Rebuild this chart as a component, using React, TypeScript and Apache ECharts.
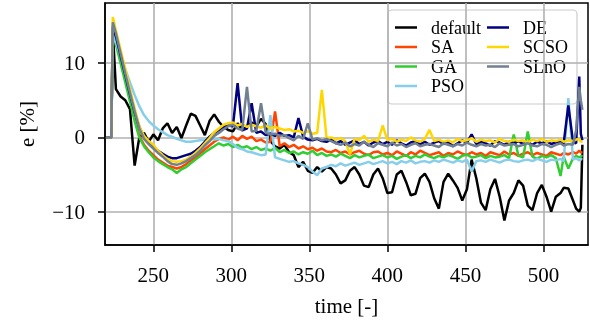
import { useEffect, useRef } from "react";
import * as echarts from "echarts";

const times = [
  220, 223, 224, 226, 229, 232, 235, 238, 241, 244,
  247, 250, 253, 256, 259, 262, 265, 268, 271, 274,
  277, 280, 283, 286, 289, 292, 295, 298, 301, 304,
  307, 310, 313, 316, 319, 322, 325, 328, 331, 334,
  337, 340, 343, 346, 349, 352, 355, 358, 361, 364,
  367, 370, 373, 376, 379, 382, 385, 388, 391, 394,
  397, 400, 403, 406, 409, 412, 415, 418, 421, 424,
  427, 430, 433, 436, 439, 442, 445, 448, 451, 454,
  457, 460, 463, 466, 469, 472, 475, 478, 481, 484,
  487, 490, 493, 496, 499, 502, 505, 508, 511, 513,
  516, 519, 521, 523, 524, 525,
];

const defaultValues = [
  0, 0, 14.5, 6.5, 5.5, 5.0, 3.8, -3.8, 0.0, 0.6,
  -0.6, 0.4, -0.4, 1.2, 1.9, 0.6, 1.4, -0.1, 1.6, 3.2,
  2.9, 1.6, 0.3, 2.2, 3.1, 2.1, 1.4, 1.0, 0.8, 1.9,
  0.9, 1.5, 2.0, 1.5, 2.5, 1.8, -0.5, -1.2, -1.5, -1.0,
  -2.0, -2.4, -4.0, -3.3, -4.5, -4.8, -4.0, -4.6, -4.0, -4.2,
  -5.0, -6.2, -5.8, -4.5, -4.0, -5.0, -6.5, -6.7, -5.0, -4.2,
  -5.5, -7.5, -7.4, -5.0, -4.5, -6.0, -7.8, -7.6, -5.5, -4.9,
  -6.0, -8.2, -9.6, -6.0, -4.9, -5.8, -6.8, -8.5, -7.0, -3.0,
  -5.5, -8.8, -9.8, -7.0, -5.6, -8.0, -11.2, -8.5, -7.5, -5.8,
  -6.5, -9.2, -9.8, -7.5, -6.4, -8.0, -10.0, -8.0, -7.5, -6.8,
  -6.9, -8.5, -9.6, -10.0, -9.5, -1.0,
];

const saValues = [
  0, 0, 14.8, 13.2, 10.6, 8.0, 5.3, 2.6, 0.2, -1.0,
  -1.8, -2.4, -3.0, -3.4, -3.8, -4.0, -4.2, -4.0, -3.6, -3.1,
  -2.7, -2.2, -1.6, -1.1, -0.6, -0.2, 0.0, -0.3, 0.1, -0.4,
  0.2, -0.2, 0.1, -0.5, -0.3, -0.7, -0.6, 3.5, -1.2, -0.8,
  -1.3, -1.0, -1.5, -1.2, -1.6, -1.4, -1.8, -1.5, -1.9, -2.0,
  -1.7, -2.1, -1.9, -2.3, -2.0, -1.8, -2.2, -2.4, -2.0, -1.9,
  -2.3, -2.1, -2.4, -1.9, -2.2, -2.5, -2.0, -2.3, -1.8, -2.1,
  -2.4, -2.2, -2.0, -2.5, -2.1, -2.3, -1.9, -2.2, -2.4, -2.0,
  -2.3, -2.1, -2.5, -2.0, -2.2, -2.4, -1.9, -2.3, -2.1, -2.5,
  -2.2, -2.0, -2.4, -2.1, -2.3, -2.5, -2.0, -2.2, -2.4, -2.1,
  -2.3, -2.0, -2.2, -1.8, -2.0, -2.1,
];

const gaValues = [
  0, 0, 14.0, 12.5, 10.0, 7.4, 4.8, 2.2, 0.0, -1.2,
  -2.0, -2.7, -3.2, -3.6, -4.0, -4.3, -4.8, -4.3, -4.0, -3.5,
  -3.0, -2.5, -2.0, -1.6, -1.2, -0.8, -1.1, -0.9, -1.3, -1.0,
  -1.4, -1.2, -1.6, -1.3, -1.7, -1.5, -1.8, -1.4, -2.0, -1.7,
  -2.1, -1.9, -2.3, -2.0, -2.2, -1.8, -2.4, -2.1, -2.5, -2.3,
  -2.6, -2.2, -2.5, -2.8, -2.4, -2.7, -2.5, -2.3, -2.8, -2.6,
  -2.4, -2.7, -2.5, -2.9, -2.6, -2.4, -2.8, -2.5, -2.7, -2.3,
  -2.6, -2.8, -2.5, -2.7, -2.4, -2.6, -2.9, -2.5, -2.3, -2.7,
  -2.6, -2.4, -2.8, -2.5, -2.7, -2.6, -2.4, -2.8, 0.4, -2.5,
  -2.7, 0.8, -2.6, -2.9, -2.5, -2.7, -2.4, -2.8, -5.2, -2.6,
  -4.2, -2.8, -2.5, -2.7, -2.6, -2.4,
];

const psoValues = [
  0, 0, 13.6, 12.8, 11.0, 9.2, 7.4, 5.7, 4.2, 3.0,
  2.2, 1.6, 1.1, 0.7, 0.3, 0.1, -0.2, -0.4, -0.6, -0.6,
  -0.5, -0.4, -0.3, -0.2, -0.3, -0.2, -0.4, -0.5, -0.9, -1.4,
  -1.6, -1.9, -2.0, -2.2, -2.4, -2.3, 3.0, -2.7, -2.9, -3.1,
  -3.3, -3.2, -3.5, -3.7, -4.0, -4.6, -5.1, -4.2, -4.0, -3.7,
  -3.9, -3.5, -3.8, -3.6, -3.4, -3.7, -3.5, -3.3, -3.6, -3.4,
  -3.2, -3.5, -3.3, -3.6, -3.2, -3.4, -3.1, -3.5, -3.3, -3.2,
  -3.4, -3.1, -3.3, -3.0, -3.2, -3.4, -3.1, -3.3, -3.0, -4.6,
  -3.2, -3.1, -3.3, -3.0, -3.2, -3.4, -3.1, -3.0, -3.2, -3.3,
  -3.1, -3.0, -3.2, -2.9, -3.1, -3.3, -3.0, -3.1, -2.9, -3.2,
  5.3, -3.0, -2.8, -3.1, -2.9, -3.0,
];

const deValues = [
  0, 0, 15.0, 13.6, 11.0, 8.4, 5.8, 3.4, 1.4, 0.0,
  -0.8, -1.4, -1.8, -2.2, -2.6, -2.8, -2.8, -2.6, -2.4, -2.2,
  -1.8, -1.3, -0.6, 0.1, 0.6, 1.0, 1.4, 1.6, 1.5, 7.3,
  1.0, 1.2, 4.6, 0.6, 0.8, 0.3, 0.5, 0.2, 0.6, 0.2,
  0.3, 0.0, 2.6, 0.1, -0.3, -0.4, -0.2, -0.5, -0.6, -0.3,
  -0.8, -0.5, -1.0, -0.7, -0.4, -0.9, -0.6, -1.1, -0.7, -0.5,
  -0.9, -0.6, -1.0, -0.4, -0.8, -1.1, -0.7, -0.5, -0.9, -0.6,
  -1.0, -0.7, -0.5, -0.9, -0.6, -1.2, -0.8, -0.4, -0.7, 0.4,
  -0.9, -0.6, -0.8, -1.1, -0.5, -0.7, -1.0, -0.6, -0.8, -0.5,
  -0.9, -0.7, -1.0, -0.6, -0.8, -0.5, -0.9, -0.7, -0.6, -0.8,
  4.3, -0.6, -0.8, 8.2, 0.5, -0.4,
];

const scsoValues = [
  0, 0, 16.2, 14.4, 11.8, 9.2, 6.5, 3.9, 1.5, 0.2,
  -0.5, -1.0, -1.8, -2.4, -2.9, -3.2, -3.3, -3.2, -3.0, -2.6,
  -2.1, -1.5, -0.8, -0.1, 0.7, 1.2, 1.7, 1.9, 2.0, 1.6,
  1.8, 1.4, 1.7, 1.5, 1.3, 1.6, 1.2, 1.4, 1.2, 1.0,
  1.1, 0.8, 0.9, 0.6, 0.8, 0.5, 0.6, 6.4, -0.1, 0.0,
  -0.3, -0.1, -0.5, -2.3, -0.2, -0.4, 0.2, -0.6, -0.3, -0.5,
  1.6, -0.4, -0.2, -0.6, -0.3, -0.5, 0.0, -0.4, -0.6, -0.2,
  1.0, -0.5, -0.3, -0.6, -0.4, -0.7, -0.2, -0.5, -0.4, -0.1,
  -0.6, -0.3, -0.5, -0.4, -0.7, -0.2, -0.5, -0.6, -0.3, -0.5,
  -0.4, -0.7, -0.3, -0.5, -0.2, -0.6, -0.4, -0.5, -0.3, -0.6,
  -0.4, -0.5, -0.3, -0.2, -0.6, -0.5,
];

const slnoValues = [
  0, 0, 15.5, 14.0, 11.3, 8.6, 6.0, 3.5, 1.2, -0.2,
  -0.9, -1.5, -2.1, -2.6, -3.2, -3.6, -3.7, -3.5, -3.2, -2.8,
  -2.4, -1.8, -1.1, -0.5, 0.2, 0.6, 1.1, 1.5, 1.7, 1.2,
  1.0, 6.8, 0.8, 0.9, 4.6, 0.6, 0.4, 0.5, 0.2, 0.3,
  -0.1, -0.4, 0.2, -0.2, 1.9, -0.3, -0.1, -0.4, -0.2, -0.5,
  -0.8, -1.0, -0.7, -1.2, -0.9, -1.1, -0.6, -1.0, -1.3, -0.8,
  -1.0, -1.2, -0.7, -1.1, -0.9, -1.3, -1.0, -0.8, -1.2, -1.0,
  -0.9, -1.1, -1.3, -0.8, -1.0, -1.2, -0.9, -1.1, -0.7, -1.0,
  -1.2, -0.9, -1.1, -1.0, -1.3, -0.8, -1.1, -1.0, -0.9, -1.2,
  -1.0, -0.8, -1.1, -1.2, -0.9, -1.0, -1.3, -1.0, -0.8, -1.1,
  -0.9, -1.0, 1.0, 6.8, 5.0, 3.7,
];

const seriesNames = ["default", "SA", "GA", "PSO", "DE", "SCSO", "SLnO"];
const seriesColors = ["#000000", "#ff4500", "#32cd32", "#87ceeb", "#000080", "#ffd700", "#708090"];
const seriesValues = [defaultValues, saValues, gaValues, psoValues, deValues, scsoValues, slnoValues];

const xTicks = [250, 300, 350, 400, 450, 500];
const yTicks = [-10, 0, 10];

const FONT = "'Liberation Serif', 'Times New Roman', serif";

export default function App() {
  const ref = useRef<HTMLDivElement>(null);

  useEffect(() => {
    const chart = echarts.init(ref.current!, null, { renderer: "svg" });

    const legendCols = [
      { handleX: 395, textX: 431 },
      { handleX: 487, textX: 523 },
    ];
    const legendRows = [27.5, 47, 66.5, 86];
    const legendItems: any[] = [];
    seriesNames.forEach((name, i) => {
      const col = i < 4 ? 0 : 1;
      const row = i < 4 ? i : i - 4;
      const y = legendRows[row];
      const c = legendCols[col];
      legendItems.push({
        type: "line",
        shape: { x1: c.handleX, y1: y, x2: c.handleX + 22, y2: y },
        style: { stroke: seriesColors[i], lineWidth: 2.5 },
      });
      legendItems.push({
        type: "text",
        x: c.textX,
        y: y,
        style: {
          text: name,
          fill: "#000",
          font: `18px ${FONT}`,
          textAlign: "left",
          textVerticalAlign: "middle",
        },
      });
    });

    chart.setOption({
      animation: false,
      grid: {
        left: 105,
        top: 3,
        width: 483,
        height: 242,
        show: true,
        borderColor: "#000",
        borderWidth: 1.5,
        backgroundColor: "transparent",
      },
      xAxis: {
        type: "value",
        min: 219,
        max: 528.6,
        name: "time [-]",
        nameLocation: "middle",
        nameGap: 50,
        nameTextStyle: { fontFamily: FONT, fontSize: 21, color: "#000" },
        axisLine: { show: true, onZero: false, lineStyle: { color: "#000", width: 1.5 } },
        axisTick: {
          show: true,
          length: 7,
          lineStyle: { color: "#000", width: 1.5 },
          customValues: xTicks,
        },
        axisLabel: {
          customValues: xTicks,
          margin: 19,
          fontFamily: FONT,
          fontSize: 21,
          color: "#000",
        },
        splitLine: { show: true, lineStyle: { color: "#b0b0b0", width: 1.6 } },
      },
      yAxis: {
        type: "value",
        min: -14.5,
        max: 18.1,
        name: "e [%]",
        nameLocation: "middle",
        nameGap: 68,
        nameRotate: 90,
        nameTextStyle: { fontFamily: FONT, fontSize: 21, color: "#000" },
        axisLine: { show: true, onZero: false, lineStyle: { color: "#000", width: 1.5 } },
        axisTick: {
          show: true,
          length: 7,
          lineStyle: { color: "#000", width: 1.5 },
          customValues: yTicks,
        },
        axisLabel: {
          customValues: yTicks,
          margin: 20,
          fontFamily: FONT,
          fontSize: 21,
          color: "#000",
          formatter: (v: number) => (v < 0 ? "\u2212" + Math.abs(v) : String(v)),
        },
        splitLine: { show: true, lineStyle: { color: "#b0b0b0", width: 1.6 } },
      },
      series: seriesNames.map((name, i) => ({
        name,
        type: "line",
        data: times.map((t, k) => [t, seriesValues[i][k]]),
        showSymbol: false,
        symbol: "none",
        lineStyle: { color: seriesColors[i], width: 2.5 },
        itemStyle: { color: seriesColors[i] },
        emphasis: { disabled: true },
        clip: true,
      })),
      graphic: [
        {
          type: "group",
          z: 100,
          children: [
            {
              type: "rect",
              shape: { x: 388, y: 10, width: 189, height: 94, r: 4 },
              style: { fill: "rgba(255,255,255,0.8)", stroke: "#cccccc", lineWidth: 1.2 },
            },
            ...legendItems,
          ],
        },
      ],
    });

    return () => chart.dispose();
  }, []);

  return (
    <div
      ref={ref}
      style={{ position: "fixed", left: 0, top: 0, width: 590, height: 322 }}
    />
  );
}
